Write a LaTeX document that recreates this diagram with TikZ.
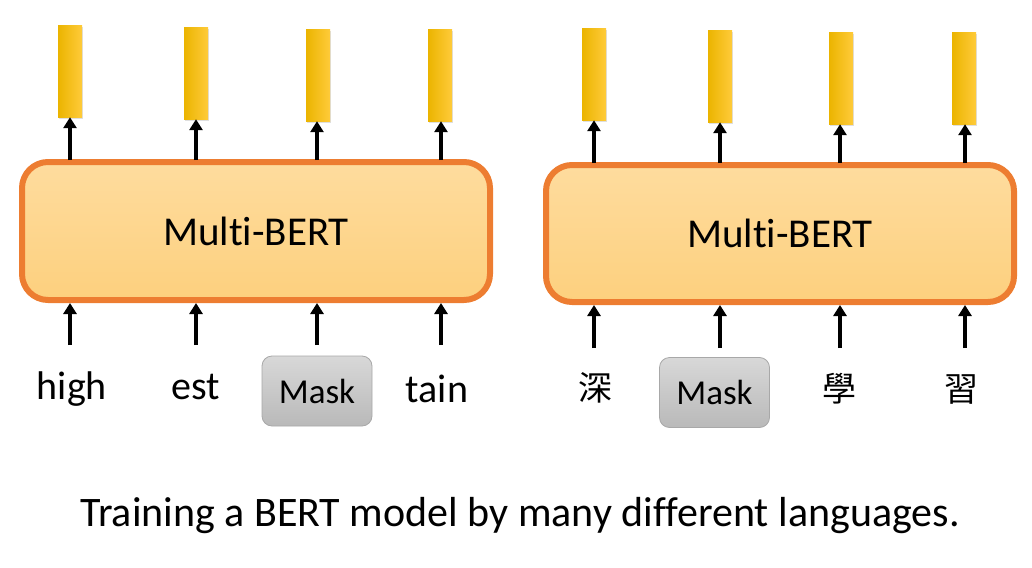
\documentclass[tikz,border=0pt]{standalone}
\usepackage{fontspec}
\setmainfont{Carlito}[Ligatures={NoCommon,NoContextual}]
\newfontfamily\cjk{Noto Sans CJK TC}
\usetikzlibrary{arrows.meta,shadows}
\definecolor{barL}{HTML}{EBB400}
\definecolor{barM}{HTML}{FFC400}
\definecolor{barR}{HTML}{FFCB3A}
\definecolor{boxT}{HTML}{FEDC9E}
\definecolor{boxB}{HTML}{FDD07E}
\definecolor{boxD}{HTML}{ED7D31}
\definecolor{mskT}{HTML}{D8D8D8}
\definecolor{mskB}{HTML}{B9B9B9}
\definecolor{mskD}{HTML}{A8A8A8}
\tikzset{
  vecbar/.style={inner sep=0pt, minimum width=24pt, minimum height=91pt,
    left color=barL, middle color=barM, right color=barR, draw=none,
    drop shadow={opacity=0.25, shadow xshift=1pt, shadow yshift=-1.5pt}},
  bertbox/.style={rectangle, rounded corners=26pt, draw=boxD, line width=6pt,
    top color=boxT, bottom color=boxB, minimum width=468pt, minimum height=138pt,
    font=\fontsize{41}{48}\selectfont},
  maskbox/.style={rectangle, rounded corners=10pt, draw=mskD, line width=0.8pt,
    top color=mskT, bottom color=mskB, minimum width=110pt, minimum height=70pt,
    inner sep=0pt},
  word/.style={anchor=base, inner sep=0pt, font=\fontsize{40}{48}\selectfont},
  cjkword/.style={anchor=base, inner sep=0pt, font=\cjk\fontsize{34}{40}\selectfont},
  masktext/.style={anchor=base, inner sep=0pt, font=\fontsize{35}{42}\selectfont},
  arr/.style={line width=3.6pt, -{Triangle[width=13pt,length=11pt]}},
  caption/.style={anchor=base, inner sep=0pt, font=\fontsize{42}{50}\selectfont}
}
\begin{document}
\begin{tikzpicture}[x=1pt,y=-1pt]
\useasboundingbox (0,0) rectangle (1032,567);
% ---------- left panel ----------
\node[bertbox] (L) at (256,231) {Multi-BERT};
\node[vecbar] (Lb1) at (70,71.5) {};
\node[vecbar] (Lb2) at (196,73.5) {};
\node[vecbar] (Lb3) at (318,75.5) {};
\node[vecbar] (Lb4) at (440,75.5) {};
\foreach \i/\x in {1/70,2/196,3/317,4/441}{
  \coordinate (Lu\i) at (\x,160);
  \coordinate (Ls\i) at (\x,345);
}
\foreach \i in {1,...,4}{
  \draw[arr] (Lu\i) -- (Lu\i |- Lb\i.south);
}
\foreach \i in {1,...,4}{
  \draw[arr] (Ls\i) -- (Ls\i |- L.south);
}
\node[word] (Lt1) at (72,399) {high};
\node[word] (Lt2) at (196,399) {est};
\node[maskbox] (Lm) at (317,391) {};
\node[masktext] (Lt3) at (317,403) {Mask};
\node[word] (Lt4) at (437,402) {tain};
% ---------- right panel ----------
\node[bertbox, minimum height=137pt] (R) at (780,233.5) {Multi-BERT};
\node[vecbar] (Rb1) at (594,74.5) {};
\node[vecbar] (Rb2) at (720,76.5) {};
\node[vecbar] (Rb3) at (841,78.5) {};
\node[vecbar] (Rb4) at (964,78.5) {};
\foreach \i/\x in {1/594,2/720,3/840,4/965}{
  \coordinate (Ru\i) at (\x,163);
  \coordinate (Rs\i) at (\x,348);
}
\foreach \i in {1,...,4}{
  \draw[arr] (Ru\i) -- (Ru\i |- Rb\i.south);
}
\foreach \i in {1,...,4}{
  \draw[arr] (Rs\i) -- (Rs\i |- R.south);
}
\node[cjkword] (Rt1) at (595,400) {深};
\node[maskbox] (Rm) at (714.5,392.5) {};
\node[masktext] (Rt2) at (714.5,404) {Mask};
\node[cjkword] (Rt3) at (839,401) {學};
\node[cjkword] (Rt4) at (961,401) {習};
% ---------- caption ----------
\node[caption] (cap) at (520,526) {Training a BERT model by many different languages.};
\end{tikzpicture}
\end{document}
